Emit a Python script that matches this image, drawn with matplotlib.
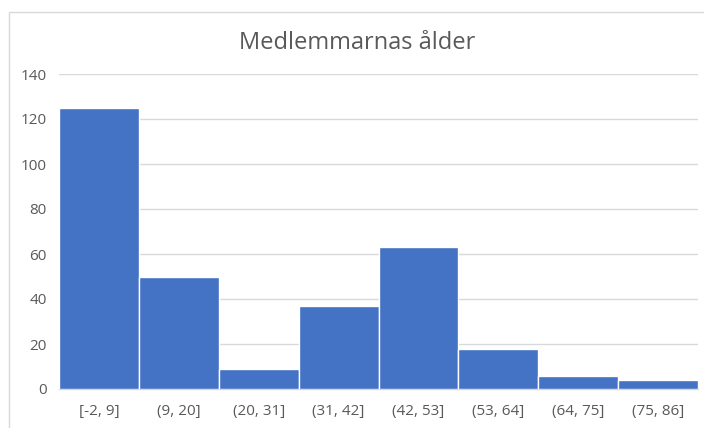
import matplotlib
matplotlib.use("Agg")
import matplotlib.pyplot as plt
from matplotlib.patches import Rectangle

title = "Medlemmarnas ålder"
categories = ["[-2, 9]", "(9, 20]", "(20, 31]", "(31, 42]", "(42, 53]", "(53, 64]", "(64, 75]", "(75, 86]"]
counts = [125, 50, 9, 37, 63, 18, 6, 4]
yticks = [0, 20, 40, 60, 80, 100, 120, 140]

plt.rcParams['font.family'] = ['Open Sans', 'DejaVu Sans']

W, H = 704, 428
fig = plt.figure(figsize=(W / 100, H / 100), dpi=100)
fig.patch.set_facecolor("white")

# chart border
fig.add_artist(Rectangle((9 / W, -0.1), 1.2, (H - 12) / H + 0.1, transform=fig.transFigure,
                         fill=False, edgecolor="#D9D9D9", linewidth=1.0))

left, right = 59 / W, 698 / W
bottom, top = (H - 389) / H, (H - 74) / H
ax = fig.add_axes([left, bottom, right - left, top - bottom])

x = list(range(len(categories)))
ax.bar(x, counts, width=1.0, color="#4472C4", edgecolor="white", linewidth=1.0, zorder=3)

ax.set_xlim(-0.5, len(categories) - 0.5)
ax.set_ylim(0, 140)
ax.set_yticks(yticks)
ax.set_xticks(x)
ax.set_xticklabels(categories)
ax.grid(axis="y", color="#D9D9D9", linewidth=1.0, zorder=0)
ax.set_axisbelow(True)

for s in ["top", "right", "left"]:
    ax.spines[s].set_visible(False)
ax.spines["bottom"].set_color("#D9D9D9")
ax.spines["bottom"].set_linewidth(1.0)

ax.tick_params(axis="both", length=0, colors="#595959", labelsize=11)
ax.tick_params(axis="x", pad=11)
ax.tick_params(axis="y", pad=9)

fig.text((W / 2 + 5) / W, (H - 43) / H, title, ha="center", va="center",
         fontsize=17, color="#595959")

fig.savefig("out.png", dpi=100, facecolor="white")
